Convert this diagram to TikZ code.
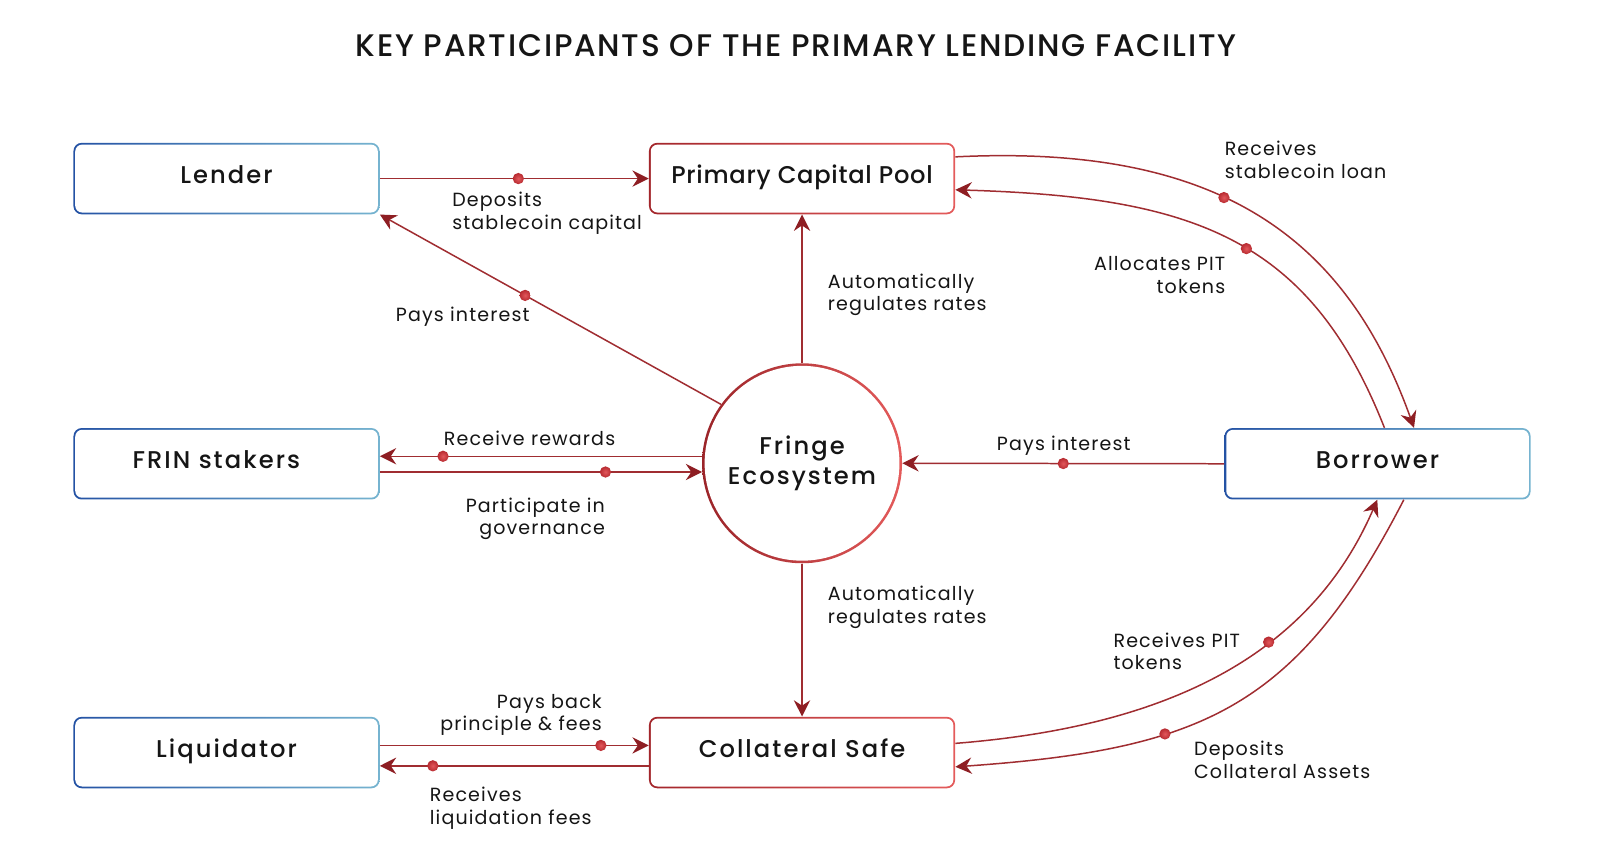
\documentclass[tikz,border=0pt]{standalone}
\usepackage{fontspec}
\setmainfont[LetterSpace=6]{Poppins}
\newfontfamily\medfont[LetterSpace=8.5]{Poppins Medium}
\newfontfamily\medtight[LetterSpace=3]{Poppins Medium}
\newfontfamily\titlefont[LetterSpace=5.6]{Poppins Medium}
\usetikzlibrary{arrows.meta,calc}
\definecolor{lnred}{HTML}{A02D31}
\definecolor{arred}{HTML}{8E1E23}
\definecolor{dotA}{HTML}{E2585C}
\definecolor{dotB}{HTML}{B72A30}
\definecolor{blA}{HTML}{2452A4}
\definecolor{blB}{HTML}{76B4D0}
\definecolor{rdA}{HTML}{A3262B}
\definecolor{rdB}{HTML}{E45B5B}
\definecolor{txt}{HTML}{151515}
\tikzset{
  boxbase/.style={rectangle, rounded corners=6pt, minimum width=225pt, minimum height=52.5pt, inner sep=0pt,
    path picture={\fill[white,rounded corners=5pt] ([shift={(1.3pt,1.3pt)}]path picture bounding box.south west) rectangle ([shift={(-1.3pt,-1.3pt)}]path picture bounding box.north east);},
    font=\medfont\fontsize{17.8}{21}\selectfont, text=txt, text height=12pt, text depth=5pt},
  bluebox/.style={boxbase, left color=blA, right color=blB},
  redbox/.style={boxbase, left color=rdA, right color=rdB},
  hub/.style={circle, minimum size=147pt, inner sep=0pt, left color=rdA!95!black, right color=rdB,
    path picture={\fill[white] (path picture bounding box.center) circle (71.6pt);},
    font=\medfont\fontsize{17.8}{22.5}\selectfont, text=txt, align=center},
  arr/.style={draw=lnred, line width=1.1pt, -{Stealth[length=12pt,width=12pt,inset=4pt,color=arred]}},
  dot/.style={circle, inner sep=0pt, minimum size=8.3pt, inner color=dotA, outer color=dotB},
  lbl/.style={font=\fontsize{14}{16.5}\selectfont, text=txt, inner sep=0pt, yshift=-1.5pt}
}
\begin{document}
\begin{tikzpicture}[x=0.75pt,y=-0.75pt]
\fill[white] (0,0) rectangle (1568,845);
\useasboundingbox (0,0) rectangle (1568,845);

\node[font=\titlefont\fontsize{22.9}{27}\selectfont, text=txt] (title) at (780,45) {KEY PARTICIPANTS OF THE PRIMARY LENDING FACILITY};

\node[bluebox] (lender) at (222,175) {Lender};
\node[bluebox] (frin) at (222,454.5) {\hspace*{-15pt}FRIN stakers};
\node[bluebox] (liq) at (222,737.5) {Liquidator};
\node[redbox, font=\medtight\fontsize{17.8}{21}\selectfont] (pcp) at (786,175) {Primary Capital Pool};
\node[redbox] (cs) at (786,737.5) {Collateral Safe};
\node[bluebox] (bor) at (1350,454.5) {Borrower};
\node[hub] (circ) at (786,454) {Fringe\\Ecosystem};

% straight connectors
\draw[arr] (lender.east) -- (pcp.west) node[dot,pos=0.515]{};
\draw[arr] (circ.144) -- (lender.south east) node[dot,pos=0.574]{};
\draw[arr] (circ.north) -- (pcp.south);
\draw[arr] (circ.south) -- (cs.north);
\draw[arr] (circ.176) -- (circ.176 -| frin.east) node[dot,pos=0.804]{};
\draw[arr] (circ.185 -| frin.east) -- (circ.185) node[dot,pos=0.70]{};
\draw[arr] (bor.west) -- (circ.east) node[dot,pos=0.5]{};
\draw[arr] ($(liq.east)+(0,-7)$) -- ($(cs.west)+(0,-7)$) node[dot,pos=0.822]{};
\draw[arr] ($(cs.west)+(0,13)$) -- ($(liq.east)+(0,13)$) node[dot,pos=0.803]{};

% curved connectors
\draw[arr] ($(pcp.north east)+(0,14)$) .. controls (1191,141) and (1318,230) .. ($(bor.north west)+(186,0)$) node[dot,pos=0.43]{};
\draw[arr] ($(bor.north west)+(157,0)$) .. controls (1283,232) and (1168,193) .. ($(pcp.east)+(0,11)$) node[dot,pos=0.46]{};
\draw[arr] ($(cs.east)+(0,-9)$) .. controls (1145,712) and (1284,642) .. ($(bor.south west)+(150,0)$) node[dot,pos=0.62]{};
\draw[arr] ($(bor.south west)+(176,0)$) .. controls (1270,695) and (1177,734.5) .. ($(cs.east)+(0,14)$) node[dot,pos=0.65]{};

% labels
\node[lbl, anchor=west, align=left] (l1) at (443,207) {Deposits\\stablecoin capital};
\node[lbl] (l2) at (453.5,308) {Pays interest};
\node[lbl, anchor=west, align=left] (l3) at (811,287) {Automatically\\regulates rates};
\node[lbl, anchor=west, align=left] (l4) at (811,593) {Automatically\\regulates rates};
\node[lbl] (l5) at (519,428) {Receive rewards};
\node[lbl, anchor=east, align=right] (l6) at (593,506.5) {Participate in\\governance};
\node[lbl] (l7) at (1042.5,435) {Pays interest};
\node[lbl, anchor=west, align=left] (l8) at (1200,154.5) {Receives\\stablecoin loan};
\node[lbl, anchor=east, align=right] (l9) at (1201,267.5) {Allocates PIT\\tokens};
\node[lbl, anchor=west, align=left] (l10) at (1091,636.5) {Receives PIT\\tokens};
\node[lbl, anchor=west, align=left] (l11) at (1170,742.5) {Deposits\\Collateral Assets};
\node[lbl, anchor=east, align=right] (l12) at (590,698.5) {Pays back\\principle \& fees};
\node[lbl, anchor=west, align=left] (l13) at (421,790) {Receives\\liquidation fees};
\end{tikzpicture}
\end{document}
